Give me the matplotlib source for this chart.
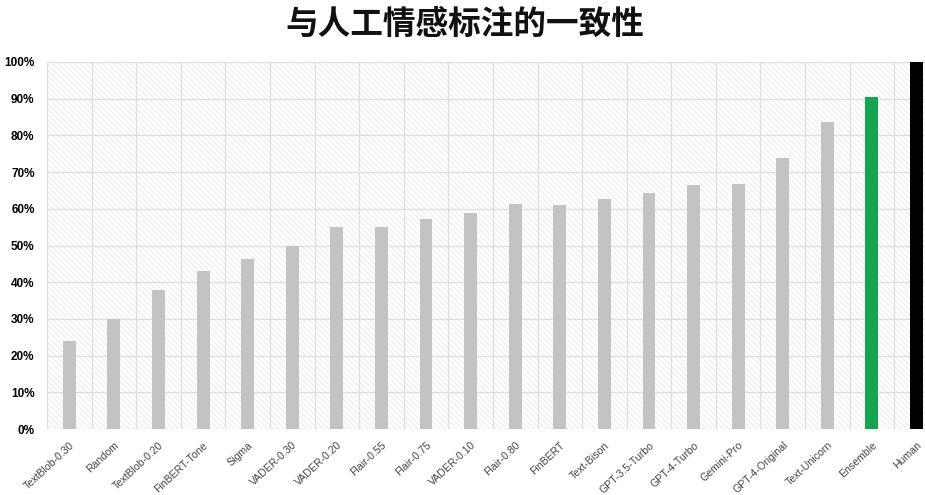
import matplotlib
matplotlib.use("Agg")
import matplotlib.pyplot as plt
from matplotlib.ticker import MultipleLocator, FuncFormatter

categories = ["TextBlob-0.30", "Random", "TextBlob-0.20", "FinBERT-Tone", "Sigma",
              "VADER-0.30", "VADER-0.20", "Flair-0.55", "Flair-0.75", "VADER-0.10",
              "Flair-0.80", "FinBERT", "Text-Bison", "GPT-3.5-Turbo", "GPT-4-Turbo",
              "Gemini-Pro", "GPT-4-Original", "Text-Unicorn", "Ensemble", "Human"]
values = [24.0, 30.0, 37.9, 43.0, 46.3, 49.9, 55.0, 55.0, 57.2, 58.9,
          61.3, 61.0, 62.7, 64.3, 66.5, 66.8, 73.8, 83.7, 90.5, 100.0]
colors = ["#c3c3c3"] * 18 + ["#12a650", "#000000"]
title = "与人工情感标注的一致性"

plt.rcParams['font.family'] = ['Noto Sans CJK SC', 'DejaVu Sans']
plt.rcParams['hatch.color'] = '#e8e8e8'
plt.rcParams['hatch.linewidth'] = 0.6

fig = plt.figure(figsize=(9.25, 4.95), dpi=100)
ax = fig.add_axes([47/925, 1-429/495, 1-47/925, (429-62)/495])

ax.patch.set_hatch('\\' * 6)
ax.patch.set_edgecolor('#e8e8e8')
ax.patch.set_linewidth(0)

x = list(range(len(categories)))
ax.bar(x, values, width=0.29, color=colors, zorder=3)

ax.yaxis.set_major_locator(MultipleLocator(10))
ax.yaxis.set_major_formatter(FuncFormatter(lambda v, p: f"{int(v)}%"))
ax.set_xticks(x)
ax.set_xticklabels(categories, rotation=43, ha='right', rotation_mode='anchor',
                   fontsize=7.6, color='#444444', family=['Liberation Sans', 'DejaVu Sans'])
ax.set_xticks([i + 0.5 for i in range(-1, len(categories))], minor=True)
ax.set_ylim(0, 100)
ax.set_xlim(-0.5, 19.19)
for lab in ax.get_yticklabels():
    lab.set_fontweight('bold')
    lab.set_fontsize(8.5)
    lab.set_family(['Liberation Sans', 'DejaVu Sans'])
ax.tick_params(axis='both', which='both', length=0)
ax.tick_params(axis='x', pad=8)
ax.tick_params(axis='y', pad=9)
ax.grid(True, axis='y', which='major', color='#dedede', linewidth=0.9, zorder=1)
ax.grid(True, axis='x', which='minor', color='#dedede', linewidth=0.9, zorder=1)
ax.grid(False, axis='x', which='major')
for s in ax.spines.values():
    s.set_visible(False)
ax.set_axisbelow(True)

fig.text(0.503, 0.950, title, ha='center', va='center', fontsize=23.5, fontweight='bold',
         color='#111111')

fig.savefig("out.png", dpi=100)
